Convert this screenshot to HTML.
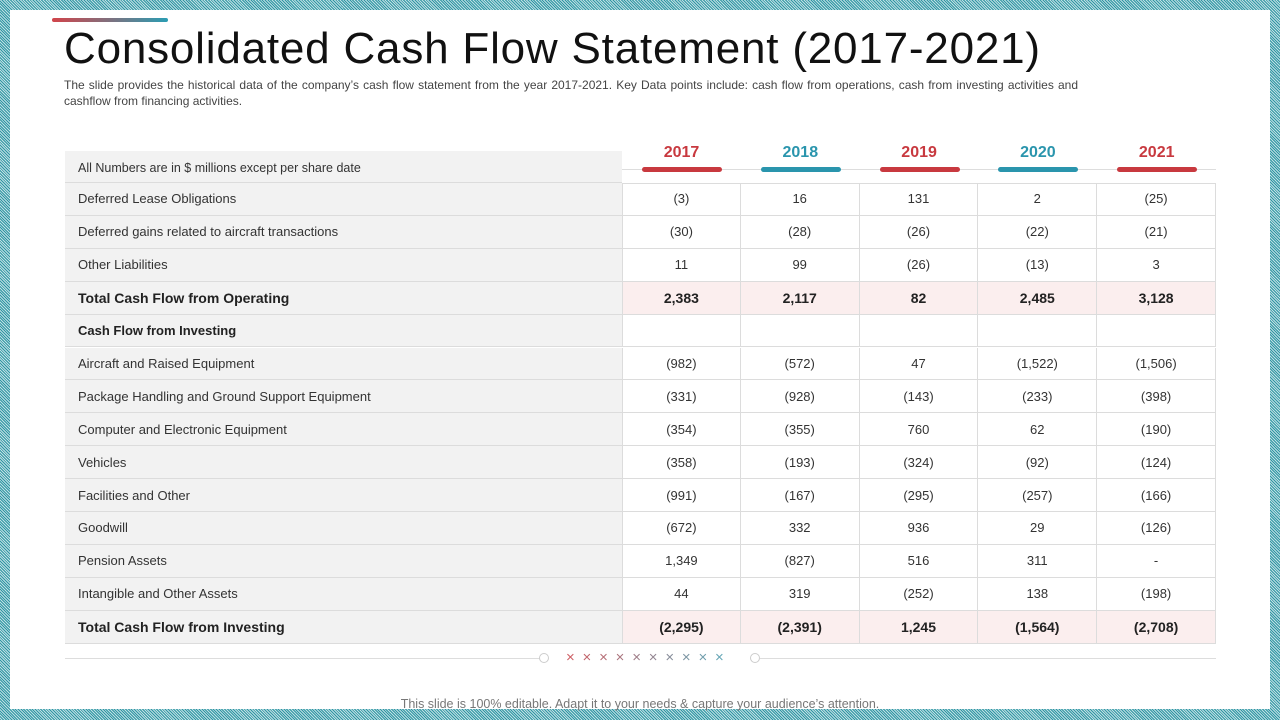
<!DOCTYPE html>
<html><head><meta charset="utf-8">
<style>
*{margin:0;padding:0;box-sizing:border-box}
body{width:1280px;height:720px;overflow:hidden;font-family:"Liberation Sans",sans-serif;background:#3a9aa8;position:relative}
.border{position:absolute;inset:0;background:repeating-linear-gradient(45deg,#2f95a3 0 1px,#bfe0e4 1px 2px);}
.inner{position:absolute;left:10px;top:10px;width:1260px;height:699px;background:#fff}
.topbar{position:absolute;left:52px;top:18px;width:116px;height:4px;border-radius:2px;background:linear-gradient(90deg,#d2444a,#2a9db3)}
h1{position:absolute;left:64px;top:24px;font-weight:normal;font-size:44px;color:#111;letter-spacing:0.8px;white-space:nowrap}
.sub{position:absolute;left:64px;top:77px;width:1014px;font-size:12px;line-height:16px;color:#444;text-align:justify}
.c{position:absolute;font-size:13px;color:#333;display:flex;align-items:center}
.lab{background:#f2f2f2;left:65px;width:557px;padding-left:13px;border-bottom:1px solid #dcdcdc}
.num{justify-content:center;width:119px;border-right:1px solid #dcdcdc;border-bottom:1px solid #dcdcdc}
.tot{background:#fbeeee;font-weight:bold;color:#222}
.yr{position:absolute;top:144px;width:119px;text-align:center;font-weight:bold;font-size:16px}
.ub{position:absolute;top:167px;width:80px;height:5px;border-radius:3px}
.foot{position:absolute;left:0;width:1280px;top:697px;text-align:center;font-size:12.5px;color:#777}
</style></head><body>
<div class="border"></div>
<div class="inner"></div>
<div class="topbar"></div>
<h1>Consolidated Cash Flow Statement (2017-2021)</h1>
<div class="sub">The slide provides the historical data of the company’s cash flow statement from the year 2017-2021. Key Data points include: cash flow from operations, cash from investing activities and cashflow from financing activities.</div>
<div id="tbl"></div>
<div style="position:absolute;left:65px;top:658px;width:475px;height:1px;background:#ddd"></div>
<div style="position:absolute;left:760px;top:658px;width:456px;height:1px;background:#ddd"></div>
<div style="position:absolute;left:539px;top:653px;width:10px;height:10px;border:1px solid #ccc;border-radius:50%;background:#fff"></div>
<div style="position:absolute;left:750px;top:653px;width:10px;height:10px;border:1px solid #ccc;border-radius:50%;background:#fff"></div>
<div style="position:absolute;left:566px;top:649px;font-size:15px;letter-spacing:7.8px;background:linear-gradient(90deg,#d05a60,#5aaabb);-webkit-background-clip:text;color:transparent">××××××××××</div>
<div class="foot">This slide is 100% editable. Adapt it to your needs &amp; capture your audience’s attention.</div>
<script>
const years=["2017","2018","2019","2020","2021"];
const yearColors=["#c8393f","#2a95ad","#c8393f","#2a95ad","#c8393f"];
const labels=["Deferred Lease Obligations","Deferred gains related to aircraft transactions","Other Liabilities","Total Cash Flow from Operating","Cash Flow from Investing","Aircraft and Raised Equipment","Package Handling and Ground Support Equipment","Computer and Electronic Equipment","Vehicles","Facilities and Other","Goodwill","Pension Assets","Intangible and Other Assets","Total Cash Flow from Investing"];
const values=[["(3)","16","131","2","(25)"],["(30)","(28)","(26)","(22)","(21)"],["11","99","(26)","(13)","3"],["2,383","2,117","82","2,485","3,128"],["","","","",""],["(982)","(572)","47","(1,522)","(1,506)"],["(331)","(928)","(143)","(233)","(398)"],["(354)","(355)","760","62","(190)"],["(358)","(193)","(324)","(92)","(124)"],["(991)","(167)","(295)","(257)","(166)"],["(672)","332","936","29","(126)"],["1,349","(827)","516","311","-"],["44","319","(252)","138","(198)"],["(2,295)","(2,391)","1,245","(1,564)","(2,708)"]];
const totals=[3,13];const bolds=[3,4,13];
const tbl=document.getElementById('tbl');
function add(cls,x,y,w,h,txt,name){const d=document.createElement('div');d.className='c '+cls;d.style.left=x+'px';d.style.top=y+'px';if(w)d.style.width=w+'px';d.style.height=h+'px';d.textContent=txt;


tbl.appendChild(d);return d;}
const h=add('lab',65,151,0,32,'All Numbers are in $ millions except per share date','units-note');h.style.fontSize='12.5px';h.style.paddingTop='3px';
const hl=document.createElement('div');hl.style.cssText='position:absolute;left:622px;top:169px;width:594px;height:1px;background:#ddd';


tbl.appendChild(hl);
years.forEach((y,i)=>{const x=622+i*118.8;
const t=document.createElement('div');t.className='yr';t.style.left=x+'px';t.style.color=yearColors[i];t.textContent=y;


tbl.appendChild(t);
const b=document.createElement('div');b.className='ub';b.style.left=(x+20)+'px';b.style.background=yearColors[i];


tbl.appendChild(b);});
const top0=183,rh=32.9;
const tl=document.createElement('div');tl.style.cssText='position:absolute;left:65px;top:183px;width:1151px;height:1px;background:#dcdcdc';


tbl.appendChild(tl);
labels.forEach((l,r)=>{const y=top0+r*rh;const isT=totals.includes(r);
const c=add('lab'+(isT?' tot':''),65,y,0,rh,l,'row-label-'+r);c.style.background='#f2f2f2';if(bolds.includes(r)){c.style.fontWeight='bold';c.style.color='#222';}
if(isT)c.style.fontSize='14px';
values[r].forEach((v,i)=>{const n=add('num'+(isT?' tot':''),622+i*118.8,y,118.8,rh,v,'cell-'+r+'-'+years[i]);if(i==0)n.style.borderLeft='1px solid #dcdcdc';if(isT)n.style.fontSize='14px';});});
</script>
</body></html>
